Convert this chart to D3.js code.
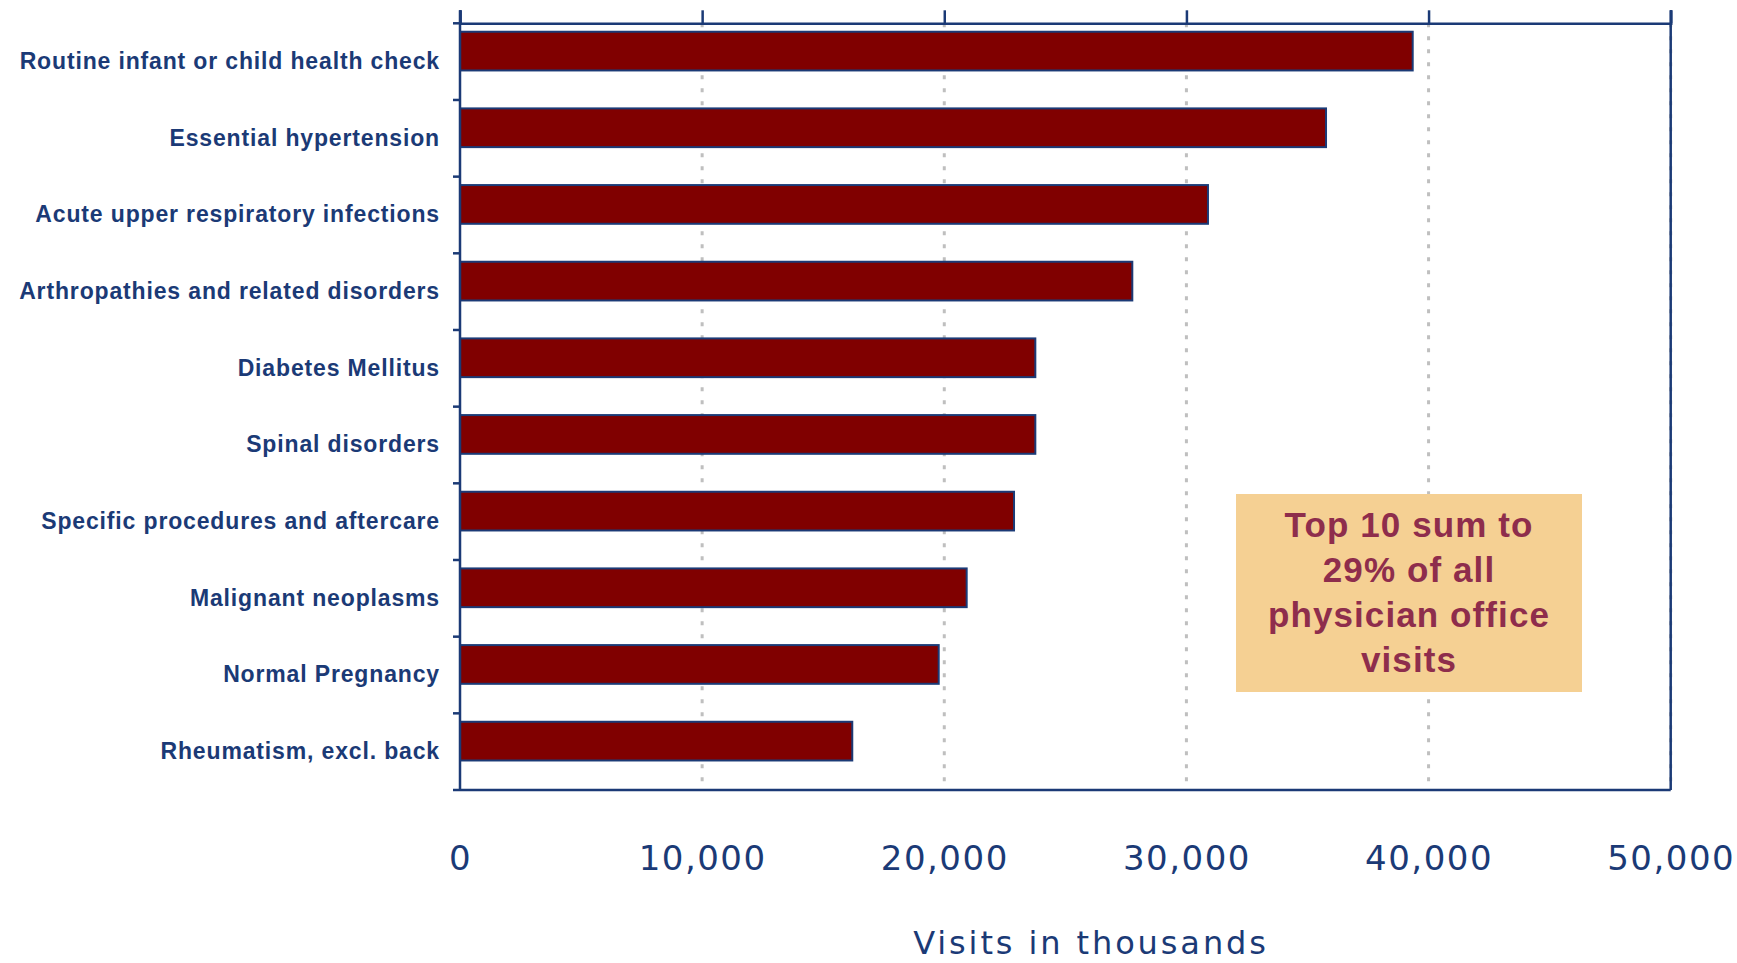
<!DOCTYPE html>
<html>
<head>
<meta charset="utf-8">
<script src="https://cdn.jsdelivr.net/npm/d3@7"></script>
<style>
  html, body { margin: 0; padding: 0; background: #fff; }
  svg { display: block; }
</style>
</head>
<body>
<svg id="chart" width="1737" height="963"></svg>
<script>
// ---- data ----
const categories = [
  "Routine infant or child health check",
  "Essential hypertension",
  "Acute upper respiratory infections",
  "Arthropathies and related disorders",
  "Diabetes Mellitus",
  "Spinal disorders",
  "Specific procedures and aftercare",
  "Malignant neoplasms",
  "Normal Pregnancy",
  "Rheumatism, excl. back"
];
const visits = [39345, 35765, 30890, 27765, 23760, 23760, 22880, 20925, 19770, 16200];
const xTicks = [0, 10000, 20000, 30000, 40000, 50000];
const xTitle = "Visits in thousands";
const noteLines = ["Top 10 sum to", "29% of all", "physician office", "visits"];

// ---- layout ----
const navy = "#1B3A76";
const plotL = 460, plotR = 1670.7, plotT = 23.3, plotB = 790;

const svg = d3.select("#chart");
const x = d3.scaleLinear().domain([0, 50000]).range([plotL, plotR]);
const y = d3.scaleBand().domain(categories).range([plotT, plotB]).padding(0);
const bw = y.bandwidth();

// gridlines
svg.append("g").selectAll("line")
  .data(xTicks.slice(1))
  .join("line")
  .attr("x1", d => x(d)).attr("x2", d => x(d))
  .attr("y1", plotT).attr("y2", plotB)
  .attr("stroke", "#BFBFBF").attr("stroke-width", 3)
  .attr("stroke-dasharray", "4,9");

// bars
svg.append("g").selectAll("rect")
  .data(categories.map((c, i) => ({c, v: visits[i]})))
  .join("rect")
  .attr("x", x(0))
  .attr("y", d => y(d.c) + bw * 0.11)
  .attr("width", d => x(d.v) - x(0))
  .attr("height", bw * 0.505)
  .attr("fill", "#800000")
  .attr("stroke", navy).attr("stroke-width", 2);

// top axis with ticks pointing up
const topAxis = svg.append("g").attr("transform", `translate(0,${plotT})`)
  .call(d3.axisTop(x).tickValues(xTicks).tickSize(13).tickFormat(""));
topAxis.select(".domain").attr("stroke", navy).attr("stroke-width", 2.5);
topAxis.selectAll(".tick line").attr("stroke", navy).attr("stroke-width", 2.5);

// left axis line, right and bottom border
svg.append("line").attr("x1", plotL).attr("x2", plotL).attr("y1", plotT - 13).attr("y2", plotB)
  .attr("stroke", navy).attr("stroke-width", 2.5);
svg.append("line").attr("x1", plotL).attr("x2", plotR).attr("y1", plotB).attr("y2", plotB)
  .attr("stroke", navy).attr("stroke-width", 2.5);
svg.append("line").attr("x1", plotR).attr("x2", plotR).attr("y1", plotT - 13).attr("y2", plotB)
  .attr("stroke", navy).attr("stroke-width", 2.5);

// category boundary ticks
const bounds = categories.map(c => y(c)).concat([y(categories[categories.length - 1]) + bw]);
svg.append("g").selectAll("line")
  .data(bounds)
  .join("line")
  .attr("x1", plotL - 7).attr("x2", plotL)
  .attr("y1", d => d).attr("y2", d => d)
  .attr("stroke", navy).attr("stroke-width", 2.5);

// category labels
const yAxis = svg.append("g").attr("transform", `translate(${plotL - 20},0)`)
  .call(d3.axisLeft(y).tickSize(0).tickPadding(0));
yAxis.select(".domain").remove();
yAxis.selectAll("text")
  .attr("fill", navy)
  .attr("font-family", "'Liberation Sans', Arial, sans-serif")
  .attr("font-weight", "bold")
  .attr("font-size", 23)
  .attr("letter-spacing", "0.85px")
  .attr("dy", "0.32em");

// x tick labels below
const xAxis = svg.append("g").attr("transform", `translate(0,${plotB})`)
  .call(d3.axisBottom(x).tickValues(xTicks).tickSize(0).tickPadding(0).tickFormat(d3.format(",")));
xAxis.select(".domain").remove();
xAxis.selectAll("text")
  .attr("fill", navy)
  .attr("font-family", "'DejaVu Sans', sans-serif")
  .attr("font-size", 34)
  .attr("letter-spacing", "1.5px")
  .attr("y", 80).attr("dy", 0);

// x title
svg.append("text")
  .attr("x", 1091).attr("y", 954)
  .attr("text-anchor", "middle")
  .attr("fill", navy)
  .attr("font-family", "'DejaVu Sans', sans-serif")
  .attr("font-size", 32)
  .attr("letter-spacing", "2.9px")
  .text(xTitle);

// annotation box
const note = svg.append("g");
note.append("rect")
  .attr("x", 1236).attr("y", 494).attr("width", 346).attr("height", 198)
  .attr("fill", "#F5D093");
note.selectAll("text")
  .data(noteLines)
  .join("text")
  .attr("x", 1409)
  .attr("y", (d, i) => 537 + i * 45)
  .attr("text-anchor", "middle")
  .attr("fill", "#8E2D4C")
  .attr("font-family", "'Liberation Sans', Arial, sans-serif")
  .attr("font-weight", "bold")
  .attr("font-size", 35)
  .attr("letter-spacing", "1.1px")
  .text(d => d);
</script>
</body>
</html>
